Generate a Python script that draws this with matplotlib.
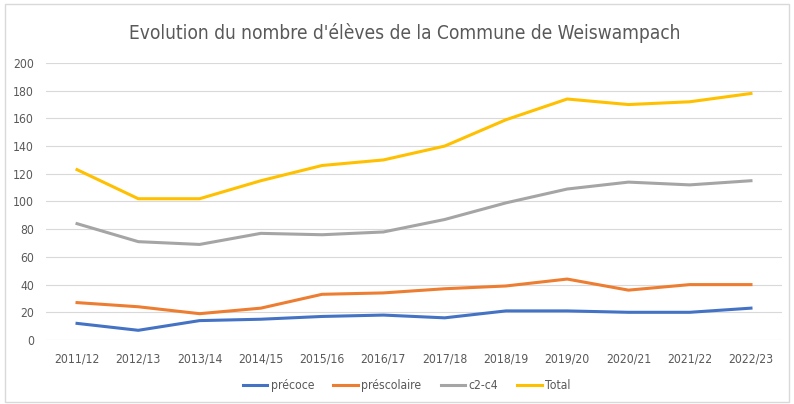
import matplotlib.pyplot as plt
from matplotlib.patches import Rectangle

# données
annees = ["2011/12", "2012/13", "2013/14", "2014/15", "2015/16", "2016/17",
          "2017/18", "2018/19", "2019/20", "2020/21", "2021/22", "2022/23"]
precoce = [12, 7, 14, 15, 17, 18, 16, 21, 21, 20, 20, 23]
prescolaire = [27, 24, 19, 23, 33, 34, 37, 39, 44, 36, 40, 40]
c2_c4 = [84, 71, 69, 77, 76, 78, 87, 99, 109, 114, 112, 115]
total = [123, 102, 102, 115, 126, 130, 140, 159, 174, 170, 172, 178]

plt.rcParams['font.family'] = ['DejaVu Sans']
plt.rcParams['font.stretch'] = 'condensed'

fig = plt.figure(figsize=(7.94, 4.04), dpi=100)
fig.patches.append(Rectangle((5 / 794, 2 / 404), 784 / 794, 398 / 404,
                             transform=fig.transFigure, fill=False,
                             edgecolor="#d9d9d9", linewidth=1))
ax = fig.add_axes([46.4 / 794, 64 / 404, 735.2 / 794, 277 / 404])

x = range(len(annees))
ax.plot(x, precoce, color="#4472C4", lw=2.2, label="précoce")
ax.plot(x, prescolaire, color="#ED7D31", lw=2.2, label="préscolaire")
ax.plot(x, c2_c4, color="#A5A5A5", lw=2.2, label="c2-c4")
ax.plot(x, total, color="#FFC000", lw=2.2, label="Total")

ax.set_xlim(-0.5, len(annees) - 0.5)
ax.set_ylim(0, 200)
ax.set_yticks(range(0, 201, 20))
ax.set_xticks(list(x))
ax.set_xticklabels(annees)
ax.grid(axis="y", color="#d9d9d9", lw=0.8)
ax.set_axisbelow(True)
for s in ax.spines.values():
    s.set_visible(False)
ax.tick_params(length=0, labelsize=8.7, colors="#595959", pad=9)

fig.text(0.51, 1 - 33 / 404, "Evolution du nombre d'élèves de la Commune de Weiswampach",
         ha="center", va="center", fontsize=13.7, color="#595959")

ax.legend(loc="center", bbox_to_anchor=(0.49, -0.165), ncol=4, frameon=False,
          fontsize=8.7, labelcolor="#595959", handlelength=2.0, handletextpad=0.3,
          columnspacing=1.6)

fig.savefig("out.png", dpi=100)
